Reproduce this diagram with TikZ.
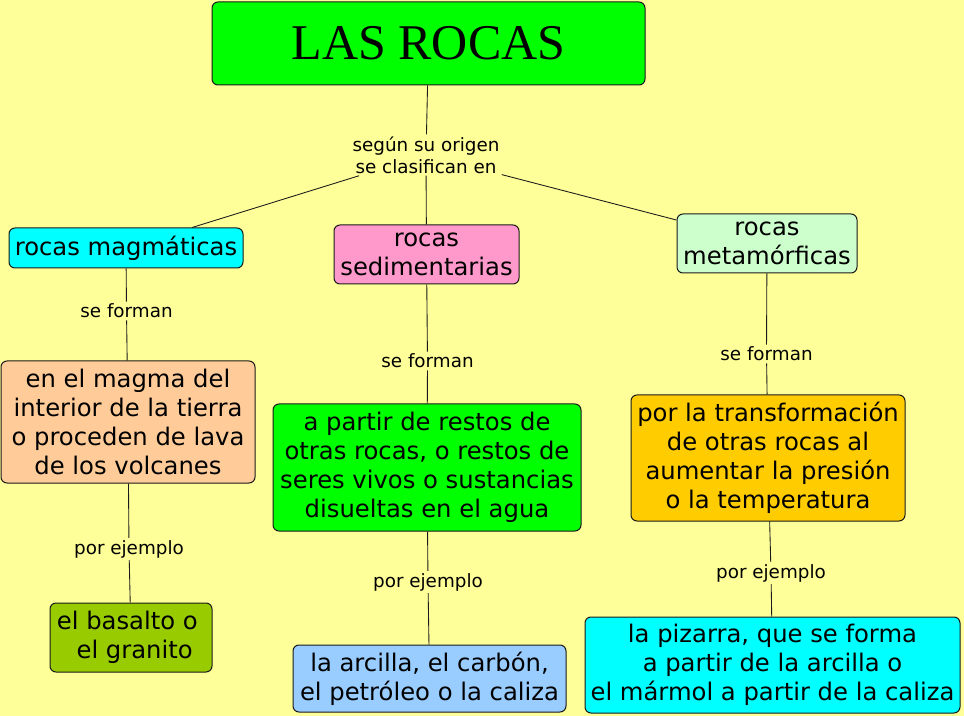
\documentclass[tikz,border=0pt]{standalone}
\usepackage{fontspec}
\setmainfont{DejaVu Sans}
\newfontfamily\titlefont{Liberation Serif}
\definecolor{bgyellow}{HTML}{FFFF99}
\definecolor{cgreen}{HTML}{00FF00}
\definecolor{ccyan}{HTML}{00FFFF}
\definecolor{cpink}{HTML}{FF99CC}
\definecolor{cmint}{HTML}{CCFFCC}
\definecolor{cpeach}{HTML}{FFCC99}
\definecolor{corange}{HTML}{FFCC00}
\definecolor{colive}{HTML}{99CC00}
\definecolor{cblue}{HTML}{99CCFF}
\definecolor{cborder}{HTML}{1A1A1A}
\tikzset{
  concept/.style={draw=cborder, line width=0.75pt, rounded corners=4.5pt, inner sep=0pt, align=center,
    font=\fontsize{18.2}{21.75}\selectfont},
  linklabel/.style={inner sep=1.5pt, align=center, font=\fontsize{13.75}{16.5}\selectfont},
  conn/.style={draw=cborder, line width=0.65pt}
}
\begin{document}
\begin{tikzpicture}[x=0.75pt,y=-0.75pt]
\fill[bgyellow] (0,0) rectangle (964,716);
\useasboundingbox (0,0) rectangle (964,716);

\node[concept, fill=cgreen, minimum width=324.75pt, minimum height=62.25pt,
  font=\titlefont\fontsize{37.5}{40}\selectfont] (title) at (428.5,43.5) {LAS ROCAS};

\node[linklabel] (l0) at (426,155) {según su origen\\se clasifican en};

\node[concept, fill=ccyan, minimum width=175.5pt, minimum height=30pt] (magm) at (126,248) {rocas magmáticas};
\node[concept, fill=cpink, minimum width=138.75pt, minimum height=44.25pt] (sed) at (426.5,254.5) {rocas\\sedimentarias};
\node[concept, fill=cmint, minimum width=135pt, minimum height=44.25pt] (meta) at (767,243.5) {rocas\\metamórficas};

\node[linklabel] (lf1) at (126.5,311) {se forman};
\node[linklabel] (lf2) at (427.5,361) {se forman};
\node[linklabel] (lf3) at (766.5,354) {se forman};

\node[concept, fill=cpeach, minimum width=190.5pt, minimum height=91.5pt] (magma) at (128,422)
  {en el magma del\\interior de la tierra\\o proceden de lava\\de los volcanes};
\node[concept, fill=cgreen, minimum width=231pt, minimum height=95.25pt] (restos) at (427,467.5)
  {a partir de restos de\\otras rocas, o restos de\\seres vivos o sustancias\\disueltas en el agua};
\node[concept, fill=corange, minimum width=205.5pt, minimum height=94.5pt] (transf) at (768,458)
  {por la transformación\\de otras rocas al\\aumentar la presión\\o la temperatura};

\node[linklabel] (le1) at (129,549) {por ejemplo};
\node[linklabel] (le2) at (428,582) {por ejemplo};
\node[linklabel] (le3) at (771,573) {por ejemplo};

\node[concept, fill=colive, minimum width=121.5pt, minimum height=51.75pt] (basalto) at (131,637.5)
  {el basalto o\hspace*{0.3em}\\\hspace*{0.3em}el granito};
\node[concept, fill=cblue, minimum width=204.75pt, minimum height=50.25pt] (arcilla) at (429.5,678.5)
  {la arcilla, el carbón,\\el petróleo o la caliza};
\node[concept, fill=ccyan, minimum width=281.25pt, minimum height=72pt] (pizarra) at (772.5,665)
  {la pizarra, que se forma\\a partir de la arcilla o\\el mármol a partir de la caliza};

\draw[conn] (title) -- (l0);
\draw[conn] (l0) -- (magm);
\draw[conn] (l0) -- (sed);
\draw[conn] (l0) -- (meta);
\draw[conn] (magm) -- (lf1);
\draw[conn] (lf1) -- (magma);
\draw[conn] (sed) -- (lf2);
\draw[conn] (lf2) -- (restos);
\draw[conn] (meta) -- (lf3);
\draw[conn] (lf3) -- (transf);
\draw[conn] (magma) -- (le1);
\draw[conn] (le1) -- (basalto);
\draw[conn] (restos) -- (le2);
\draw[conn] (le2) -- (arcilla);
\draw[conn] (transf) -- (le3);
\draw[conn] (le3) -- (pizarra);
\end{tikzpicture}
\end{document}
